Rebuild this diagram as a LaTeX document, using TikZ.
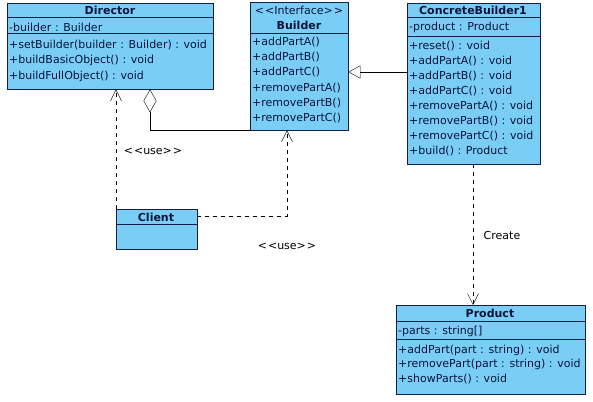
\documentclass[tikz,border=0pt]{standalone}
\usepackage{fontspec}
\setmainfont{DejaVu Sans}
\usetikzlibrary{arrows.meta}

\definecolor{classfill}{RGB}{122,206,245}
\definecolor{classline}{RGB}{20,30,70}
\definecolor{classtext}{RGB}{10,20,60}

\begin{document}
\begin{tikzpicture}[x=1pt, y=-1pt,
    classbox/.style={draw=classline, fill=classfill, anchor=north west, inner sep=0pt},
    member/.style={anchor=west, inner sep=1pt, text=classtext, font=\fontsize{11}{13}\selectfont},
    title/.style={inner sep=0pt, text=classtext, font=\fontsize{11}{13}\selectfont\bfseries},
    uses/.style={black, dash pattern=on 4pt off 4pt, -{Straight Barb[length=11pt,width=11pt]}}]
    % Fondo
    \fill[white] (0,0) rectangle (593,401);
    \useasboundingbox (0,0) rectangle (593,401);

    % Clases
    \node[classbox, minimum width=206pt, minimum height=86pt] (director) at (7,3) {};
    \node[classbox, minimum width=98pt, minimum height=128pt] (builder) at (250,2) {};
    \node[classbox, minimum width=133pt, minimum height=161pt] (concrete) at (407,3) {};
    \node[classbox, minimum width=81pt, minimum height=40pt] (client) at (116,209) {};
    \node[classbox, minimum width=189pt, minimum height=89pt] (product) at (396,305) {};

    % Separadores
    \draw[classline] ([yshift=-14pt]director.north west) -- ([yshift=-14pt]director.north east);
    \draw[classline] ([yshift=-30pt]director.north west) -- ([yshift=-30pt]director.north east);
    \draw[classline] ([yshift=-31pt]builder.north west) -- ([yshift=-31pt]builder.north east);
    \draw[classline] ([yshift=-14pt]concrete.north west) -- ([yshift=-14pt]concrete.north east);
    \draw[classline] ([yshift=-33pt]concrete.north west) -- ([yshift=-33pt]concrete.north east);
    \draw[classline] ([yshift=-15pt]client.north west) -- ([yshift=-15pt]client.north east);
    \draw[classline] ([yshift=-16pt]product.north west) -- ([yshift=-16pt]product.north east);
    \draw[classline] ([yshift=-34pt]product.north west) -- ([yshift=-34pt]product.north east);

    % Nombres
    \node[title] (director-name) at (110,10) {Director};
    \node[title, font=\fontsize{11}{13}\selectfont] (builder-stereo) at (299,10) {<\kern1pt<Interface>\kern1pt>};
    \node[title] (builder-name) at (299,25) {Builder};
    \node[title] (concrete-name) at (473,10) {ConcreteBuilder1};
    \node[title] (client-name) at (156,217) {Client};
    \node[title] (product-name) at (490,313) {Product};

    % Atributos
    \node[member] (director-attr) at (8,27) {-builder : Builder};
    \node[member] (concrete-attr) at (408,27) {-product : Product};
    \node[member] (product-attr) at (397,331) {-parts : string[]};

    % Operaciones
    \foreach \op [count=\i from 0] in {+setBuilder(builder : Builder) : void, +buildBasicObject() : void, +buildFullObject() : void}
        \node[member] (director-op\i) at (8,45+15.5*\i) {\op};
    \foreach \op [count=\i from 0] in {+addPartA(), +addPartB(), +addPartC(), +removePartA(), +removePartB(), +removePartC()}
        \node[member] (builder-op\i) at (251,42+15.2*\i) {\op};
    \foreach \op [count=\i from 0] in {+reset() : void, +addPartA() : void, +addPartB() : void, +addPartC() : void, +removePartA() : void, +removePartB() : void, +removePartC() : void, +build() : Product}
        \node[member] (concrete-op\i) at (408,46+15*\i) {\op};
    \foreach \op [count=\i from 0] in {+addPart(part : string) : void, +removePart(part : string) : void, +showParts() : void}
        \node[member] (product-op\i) at (397,350+14.6*\i) {\op};

    % Relaciones
    % Herencia
    \draw[black, -{Triangle[open, length=12pt, width=13pt]}] ([yshift=-69pt]concrete.north west) -- ([yshift=-70pt]builder.north east);
    % Agregacion
    \draw[black, {Diamond[open, length=23pt, width=13pt]}-] ([xshift=143pt]director.south west) |- (builder.south west);
    % Dependencias
    \draw[uses] (client.north west) -- ([xshift=109pt]director.south west);
    \draw[uses] ([yshift=-7pt]client.north east) -| ([xshift=37pt]builder.south west);
    \draw[uses] ([xshift=66pt]concrete.south west) -- ([xshift=77pt]product.north west);

    % Etiquetas
    \node[member, anchor=center, text=black] (use1) at (153,151) {<\kern1pt<use>\kern1pt>};
    \node[member, anchor=center, text=black] (use2) at (287,246) {<\kern1pt<use>\kern1pt>};
    \node[member, anchor=center, text=black] (create) at (502,235) {Create};
\end{tikzpicture}
\end{document}
